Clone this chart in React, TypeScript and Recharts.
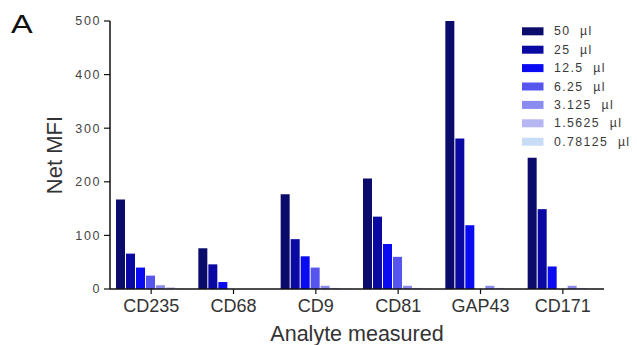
import React from 'react';
import { BarChart, Bar, XAxis, YAxis } from 'recharts';

const categories = ['CD235', 'CD68', 'CD9', 'CD81', 'GAP43', 'CD171'];
const vol50 = [167, 76, 177, 206, 500, 245];
const vol25 = [66, 46, 93, 135, 281, 149];
const vol12_5 = [40, 13, 61, 84, 119, 42];
const vol6_25 = [25, 0, 40, 60, 0, 0];
const vol3_125 = [7, 0, 6, 6, 6, 6];
const vol1_5625 = [3, 0, 2, 2, 2, 2];
const vol0_78125 = [1, 0, 1, 1, 1, 1];
const seriesNames = ['50  µl', '25  µl', '12.5  µl', '6.25  µl', '3.125  µl', '1.5625  µl', '0.78125  µl'];
const seriesColors = ['#0b0b6c', '#0a0aa2', '#0b0bf2', '#5656ee', '#8a8aef', '#b6b6f2', '#c8dcf5'];
const yTicks = [0, 100, 200, 300, 400, 500];

const seriesValues = [vol50, vol25, vol12_5, vol6_25, vol3_125, vol1_5625, vol0_78125];
const data = categories.map((c, i) => {
  const row: Record<string, any> = { name: c };
  seriesValues.forEach((arr, k) => {
    row['s' + k] = arr[i];
  });
  return row;
});

const FONT = '"Liberation Sans", Arial, sans-serif';

export default function App() {
  return (
    <div style={{ position: 'absolute', left: 0, top: 0, width: 637, height: 345, background: '#fff' }}>
      <BarChart
        width={637}
        height={345}
        data={data}
        margin={{ top: 21, right: 33, bottom: 0, left: 0 }}
        barCategoryGap={6}
        barGap={1}
      >
        <XAxis
          dataKey="name"
          height={56}
          tickSize={5}
          tickMargin={5}
          axisLine={{ stroke: '#111', strokeWidth: 1.5 }}
          tickLine={{ stroke: '#111', strokeWidth: 1.2 }}
          tick={{ fill: '#333', fontSize: 18, fontFamily: FONT }}
          label={{ value: 'Analyte measured', position: 'insideBottom', offset: 4, fill: '#333', fontSize: 21.5, fontFamily: FONT }}
        />
        <YAxis
          width={110}
          domain={[0, 500]}
          ticks={yTicks}
          interval={0}
          tickSize={6}
          tickMargin={3}
          axisLine={{ stroke: '#111', strokeWidth: 1.5 }}
          tickLine={{ stroke: '#111', strokeWidth: 1.2 }}
          tick={{ fill: '#444', fontSize: 12.5, fontFamily: FONT, letterSpacing: 1.6 }}
          label={{ value: 'Net MFI', angle: -90, position: 'center', dx: -1, fill: '#333', fontSize: 22, fontFamily: FONT, style: { textAnchor: 'middle' } }}
        />
        {seriesNames.map((n, k) => (
          <Bar key={n} dataKey={'s' + k} name={n} fill={seriesColors[k]} isAnimationActive={false} />
        ))}
      </BarChart>
      <svg width={637} height={345} style={{ position: 'absolute', left: 0, top: 0, pointerEvents: 'none' }}>
        <text x={11} y={33.5} fontFamily={FONT} fontSize={26} fill="#111" transform="translate(11 0) scale(1.25 1) translate(-11 0)">A</text>
        {seriesNames.map((n, k) => (
          <g key={n}>
            <rect x={522} y={27.3 + k * 18.4} width={21.5} height={8} fill={seriesColors[k]} />
            <text x={554} y={35.3 + k * 18.4} fontFamily={FONT} fontSize={12.3} fill="#3a3a3a" letterSpacing={1.4} style={{ whiteSpace: 'pre' }}>{n}</text>
          </g>
        ))}
      </svg>
    </div>
  );
}
